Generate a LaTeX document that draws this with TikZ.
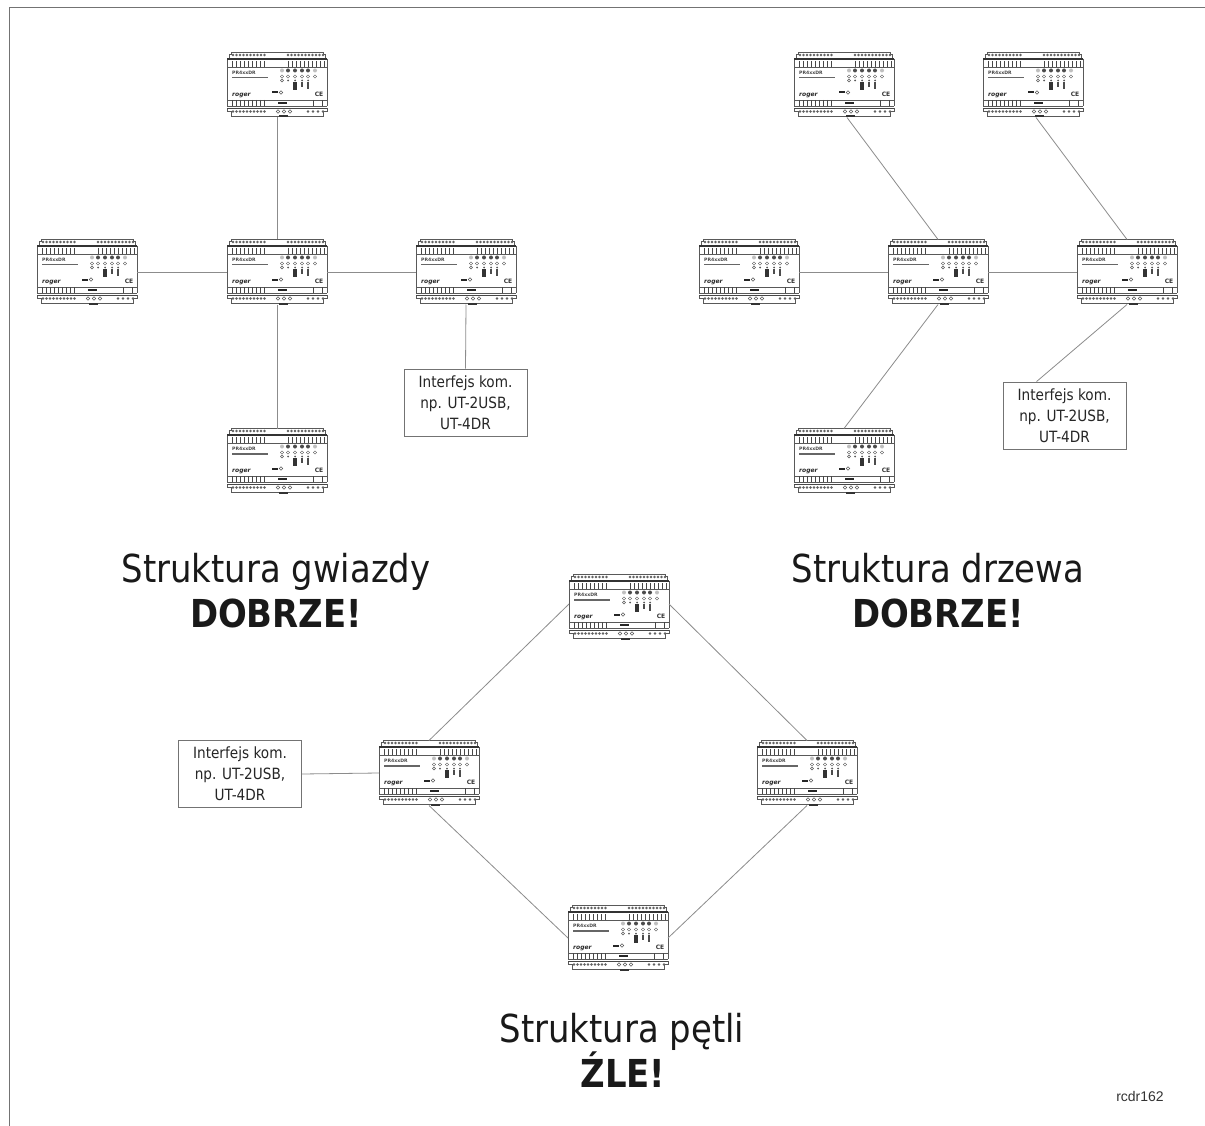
\documentclass[tikz,border=0pt]{standalone}
\usepackage{fontspec}
\setmainfont{DejaVu Sans}
\newfontfamily\rcfont{Liberation Sans}
\newcommand{\nrw}[1]{\scalebox{0.88}[1]{#1}}
\newcommand{\ifl}{\nrw{Interfejs kom.}\\[0pt]\nrw{np. UT-2USB,}\\[0pt]\nrw{UT-4DR}}
\begin{document}
\begin{tikzpicture}[x=1pt,y=-1pt,
  devbox/.style={draw=none,minimum width=100pt,minimum height=65pt,inner sep=0pt,outer sep=0pt},
  ifbox/.style={draw=black!55,line width=0.8pt,fill=white,minimum width=123pt,minimum height=67pt,inner sep=0pt,align=center,font=\fontsize{15.5}{21}\selectfont,text=black!85},
  wire/.style={draw=black!45,line width=0.8pt},
  frameln/.style={draw=black!55,line width=0.9pt},
  title/.style={align=center,text=black!90,anchor=base,inner sep=0pt},
  tnorm/.style={title,font=\fontsize{38.5}{40}\selectfont},
  tbold/.style={title,font=\bfseries\fontsize{38.5}{40}\selectfont},
  dthin/.style={draw=black!65,line width=0.45pt},
  dmid/.style={draw=black!72,line width=0.7pt},
  dthick/.style={draw=black!80,line width=1.3pt},
  device/.pic={
    % outline
    \draw[dthin] (-48,-26) -- (-48,-31) -- (-46,-31) -- (-46,-33) -- (46,-33) -- (46,-31) -- (48,-31) -- (48,-26);
    \draw[dthin] (-50,-26) -- (-50,21);
    \draw[dthin] (50,-26) -- (50,21);
    \draw[dthin] (-50,23) -- (-50,26) -- (-46,26) -- (-46,31) -- (46,31) -- (46,26) -- (50,26) -- (50,23);
    \draw[dthick] (-50,-26) -- (50,-26);
    \draw[dthin] (-50,-18) -- (50,-18);
    \draw[dthin] (-50,15) -- (50,15);
    \draw[dthin] (-50,21) -- (50,21);
    \draw[dmid] (-50,23) -- (50,23);
    % terminal dots
    \foreach \tx in {-44,-40.5,...,-12}{\fill[black!62] (\tx,-30) circle (1.3pt);\fill[black!62] (\tx,26.5) circle (1.3pt);}
    \foreach \tx in {11,14.5,...,46}{\fill[black!62] (\tx,-30) circle (1.3pt);}
    \foreach \tx in {1,7,13}{\draw[dthin] (\tx,26.5) circle (1.7pt);}
    \foreach \tx in {31,36,41,46}{\fill[black!62] (\tx,26.5) circle (1.4pt);}
    % combs
    \foreach \tx in {-45,-41,...,-13}{\draw[dmid] (\tx,-24) -- (\tx,-18);\draw[dmid] (\tx,15) -- (\tx,21);}
    \foreach \tx in {11,15,...,47}{\draw[dmid] (\tx,-24) -- (\tx,-18);}
    \foreach \tx in {36,45}{\draw[dmid] (\tx,15) -- (\tx,21);}
    \fill[black!85] (1,17.4) rectangle (10,18.6);
    \fill[black!85] (-5,6.5) rectangle (1,8.5);
    \draw[dthin] (4,7.5) circle (1.8pt);
    % label
    \node[inner sep=0pt,anchor=west,font=\bfseries\fontsize{4.6}{5}\selectfont,text=black!72] at (-45,-12) {PR4xxDR};
    \fill[black!60] (-45,-7.8) rectangle (-9,-6.5);
    \node[inner sep=0pt,anchor=west,font=\bfseries\itshape\fontsize{6}{6}\selectfont,text=black!85] at (-45,10) {roger};
    \node[inner sep=0pt,font=\bfseries\fontsize{6}{6}\selectfont,text=black!80] at (42,9) {CE};
    % LEDs
    \foreach \tx/\fl in {5/black!25,11/black!70,18/black!70,25/black!70,31/black!70,38/black!25}{
      \fill[\fl] (\tx,-14.5) circle (2pt);
      \draw[dthin] (\tx,-8.5) circle (1.6pt);
    }
    \draw[dthin] (5,-4.5) circle (1.5pt);
    \foreach \tx in {11,18,25,31}{\fill[black!65] (\tx,-4.5) circle (1pt);}
    \fill[black!80] (16,-3) rectangle (20,5);
    \fill[black!70] (24,-3) rectangle (26,2);
    \fill[black!70] (30,-3) rectangle (32,4);
    % bottom label
    \fill[black!80] (2,30.5) rectangle (11,32.5);
  }]
\useasboundingbox (0,0) rectangle (1205,1126);
\fill[white] (0,0) rectangle (1205,1126);
\coordinate (fa) at (9,1126);
\coordinate (fb) at (9,7);
\coordinate (fc) at (1205,7);
\draw[frameln] (fa) -- (fb) -- (fc);

\foreach \n/\x/\y in {st/277/85,sl/87/272,sc/277/272,sr/466/272,sb/277/461,
  tl/844/85,tr/1033/85,tw/749/272,tc/938/272,te/1127/272,tb/844/461,
  lt/619/607,lw/429/773,le/807/773,lb/618/938}{
  \node[devbox] (\n) at (\x,\y) {};
  \pic at (\x,\y) {device};
}
\node[ifbox] (ifs) at (465.5,402.5) {\ifl};
\node[ifbox] (ift) at (1064.5,415.5) {\ifl};
\node[ifbox] (ifl) at (240,774) {\ifl};

\draw[wire] (st.south) -- (sc.north);
\draw[wire] (sl.east) -- (sc.west);
\draw[wire] (sc.east) -- (sr.west);
\draw[wire] (sc.south) -- (sb.north);
\draw[wire] (sr.south) -- (ifs.north);

\draw[wire] ([xshift=3pt]tl.south) -- (tc.north);
\draw[wire] ([xshift=3pt]tr.south) -- (te.north);
\draw[wire] (tw.east) -- (tc.west);
\draw[wire] (tc.east) -- (te.west);
\draw[wire] (tc.south) -- (tb.north);
\draw[wire] (te.south) -- ([xshift=-28pt]ift.north);

\draw[wire] ([yshift=3pt]lt.west) -- (lw.north);
\draw[wire] ([yshift=3pt]lt.east) -- (le.north);
\draw[wire] (lw.south) -- (lb.west);
\draw[wire] (le.south) -- (lb.east);
\draw[wire] (ifl.east) -- (lw.west);

\node[tnorm] (t1) at (276,582) {\nrw{Struktura gwiazdy}};
\node[tbold] (t1b) at (276,627) {\nrw{DOBRZE!}};
\node[tnorm] (t2) at (938,582) {\nrw{Struktura drzewa}};
\node[tbold] (t2b) at (938,627) {\nrw{DOBRZE!}};
\node[tnorm] (t3) at (622,1042) {\nrw{Struktura pętli}};
\node[tbold] (t3b) at (623,1087) {\nrw{ŹLE!}};
\node[font=\rcfont\fontsize{14}{16}\selectfont,text=black!80] (rc) at (1140,1096) {rcdr162};
\end{tikzpicture}
\end{document}
